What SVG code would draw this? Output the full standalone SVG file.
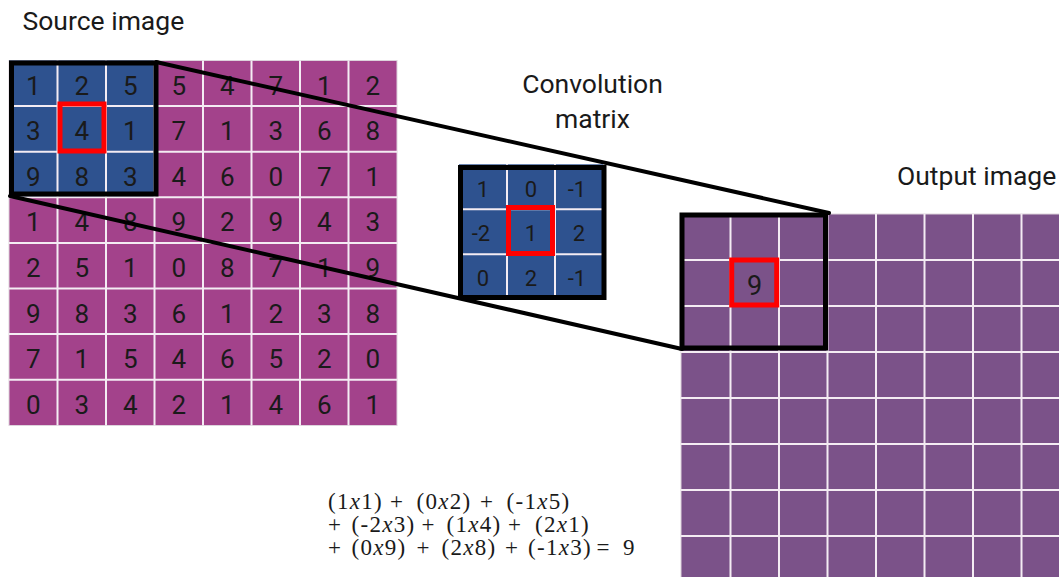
<svg xmlns="http://www.w3.org/2000/svg" width="1059" height="577" viewBox="0 0 1059 577">
  <style>
    .title { font-family: Roboto, "Noto Sans", sans-serif; font-size: 26.5px; fill: #1a1a1a; }
    .num { font-family: Roboto, "Noto Sans", sans-serif; fill: #1a1a1a; text-anchor: middle; }
    .src { font-size: 26px; }
    .ker { font-size: 22px; }
    .out { font-size: 27px; }
    .grid { stroke: #f4ecf3; stroke-width: 2; fill: none; }
    .frame { fill: none; stroke: #000; stroke-width: 5; }
    .focus { fill: none; stroke: #ff0000; stroke-width: 5; }
    .link { stroke: #000; stroke-width: 4; stroke-linecap: round; }
    .math { font-family: "Liberation Serif", "DejaVu Serif", serif; font-size: 23px; fill: #1a1a1a; letter-spacing: 1.3px; }
    .var { font-style: italic; }
  </style>

  <rect width="1059" height="577" fill="#ffffff"/>

  <!-- labels -->
  <text class="title" x="22.5" y="29.5">Source image</text>
  <text class="title" x="592.5" y="93" text-anchor="middle">Convolution</text>
  <text class="title" x="592.5" y="128" text-anchor="middle">matrix</text>
  <text class="title" x="897" y="185">Output image</text>

  <!-- source image: 8x8 grid with highlighted 3x3 window -->
  <g id="source-image">
    <rect x="9" y="60.5" width="388" height="365" fill="#a3428b" stroke="#ddd3dc" stroke-width="1"/>
    <rect x="9" y="60.5" width="145.5" height="136.8" fill="#2e528f"/>
    <path class="grid" d="M57.5 60.5V425.5M106 60.5V425.5M154.5 60.5V425.5M203 60.5V425.5M251.5 60.5V425.5M300 60.5V425.5M348.5 60.5V425.5
      M9 106.1H397M9 151.7H397M9 197.3H397M9 242.9H397M9 288.5H397M9 334.1H397M9 379.7H397"/>
    <g class="num src">
      <text y="94.5"><tspan x="33.25">1</tspan><tspan x="81.75">2</tspan><tspan x="130.25">5</tspan><tspan x="178.75">5</tspan><tspan x="227.25">4</tspan><tspan x="275.75">7</tspan><tspan x="324.25">1</tspan><tspan x="372.75">2</tspan></text>
      <text y="140.1"><tspan x="33.25">3</tspan><tspan x="81.75">4</tspan><tspan x="130.25">1</tspan><tspan x="178.75">7</tspan><tspan x="227.25">1</tspan><tspan x="275.75">3</tspan><tspan x="324.25">6</tspan><tspan x="372.75">8</tspan></text>
      <text y="185.7"><tspan x="33.25">9</tspan><tspan x="81.75">8</tspan><tspan x="130.25">3</tspan><tspan x="178.75">4</tspan><tspan x="227.25">6</tspan><tspan x="275.75">0</tspan><tspan x="324.25">7</tspan><tspan x="372.75">1</tspan></text>
      <text y="231.3"><tspan x="33.25">1</tspan><tspan x="81.75">4</tspan><tspan x="130.25">8</tspan><tspan x="178.75">9</tspan><tspan x="227.25">2</tspan><tspan x="275.75">9</tspan><tspan x="324.25">4</tspan><tspan x="372.75">3</tspan></text>
      <text y="276.9"><tspan x="33.25">2</tspan><tspan x="81.75">5</tspan><tspan x="130.25">1</tspan><tspan x="178.75">0</tspan><tspan x="227.25">8</tspan><tspan x="275.75">7</tspan><tspan x="324.25">1</tspan><tspan x="372.75">9</tspan></text>
      <text y="322.5"><tspan x="33.25">9</tspan><tspan x="81.75">8</tspan><tspan x="130.25">3</tspan><tspan x="178.75">6</tspan><tspan x="227.25">1</tspan><tspan x="275.75">2</tspan><tspan x="324.25">3</tspan><tspan x="372.75">8</tspan></text>
      <text y="368.1"><tspan x="33.25">7</tspan><tspan x="81.75">1</tspan><tspan x="130.25">5</tspan><tspan x="178.75">4</tspan><tspan x="227.25">6</tspan><tspan x="275.75">5</tspan><tspan x="324.25">2</tspan><tspan x="372.75">0</tspan></text>
      <text y="413.7"><tspan x="33.25">0</tspan><tspan x="81.75">3</tspan><tspan x="130.25">4</tspan><tspan x="178.75">2</tspan><tspan x="227.25">1</tspan><tspan x="275.75">4</tspan><tspan x="324.25">6</tspan><tspan x="372.75">1</tspan></text>
    </g>
    <rect class="frame" x="11.5" y="63" width="144.5" height="131"/>
    <rect class="focus" x="60" y="104" width="44" height="47"/>
  </g>

  <!-- output image: grid running off the right and bottom edges -->
  <g id="output-image">
    <rect x="681" y="214" width="400" height="400" fill="#7b5289" stroke="#ddd3dc" stroke-width="1"/>
    <path class="grid" d="M730.5 214V577M779 214V577M827.5 214V577M876 214V577M924.5 214V577M973 214V577M1021.5 214V577
      M681 260H1059M681 306H1059M681 352H1059M681 398H1059M681 444H1059M681 490H1059M681 536H1059"/>
    <text class="num out" x="754.5" y="295">9</text>
    <rect class="frame" x="682" y="215" width="143.5" height="133"/>
    <rect class="focus" x="731.7" y="260" width="45" height="45"/>
  </g>

  <!-- connectors from the source window to the output window -->
  <g id="connectors">
    <line class="link" x1="156" y1="62" x2="829" y2="213"/>
    <line class="link" x1="10" y1="196" x2="682" y2="349"/>
  </g>

  <!-- 3x3 kernel -->
  <g id="convolution-matrix">
    <rect x="459" y="164.3" width="144" height="135" fill="#2e528f"/>
    <path class="grid" d="M507 164.3V299.3M555 164.3V299.3M459 209.3H603M459 254.3H603"/>
    <g class="num ker">
      <text y="196.5"><tspan x="483">1</tspan><tspan x="531">0</tspan><tspan x="577">-1</tspan></text>
      <text y="241"><tspan x="481">-2</tspan><tspan x="531">1</tspan><tspan x="579">2</tspan></text>
      <text y="286"><tspan x="483">0</tspan><tspan x="531">2</tspan><tspan x="577">-1</tspan></text>
    </g>
    <rect class="frame" x="460.5" y="167.5" width="143.5" height="130"/>
    <rect class="focus" x="508.5" y="207.5" width="44" height="46"/>
  </g>

  <!-- worked sum for the centre pixel -->
  <g id="formula" class="math">
    <text y="508.5"><tspan x="328">(1<tspan class="var">x</tspan>1)</tspan><tspan x="390">+</tspan><tspan x="416.5">(0<tspan class="var">x</tspan>2)</tspan><tspan x="480">+</tspan><tspan x="506.5">(-1<tspan class="var">x</tspan>5)</tspan></text>
    <text y="531.5"><tspan x="328">+</tspan><tspan x="351.5">(-2<tspan class="var">x</tspan>3)</tspan><tspan x="421.5">+</tspan><tspan x="446.5">(1<tspan class="var">x</tspan>4)</tspan><tspan x="508">+</tspan><tspan x="535">(2<tspan class="var">x</tspan>1)</tspan></text>
    <text y="554.5"><tspan x="328">+</tspan><tspan x="351.5">(0<tspan class="var">x</tspan>9)</tspan><tspan x="416.5">+</tspan><tspan x="441.5">(2<tspan class="var">x</tspan>8)</tspan><tspan x="505">+</tspan><tspan x="528">(-1<tspan class="var">x</tspan>3)</tspan><tspan x="596.5">=</tspan><tspan x="623">9</tspan></text>
  </g>
</svg>
